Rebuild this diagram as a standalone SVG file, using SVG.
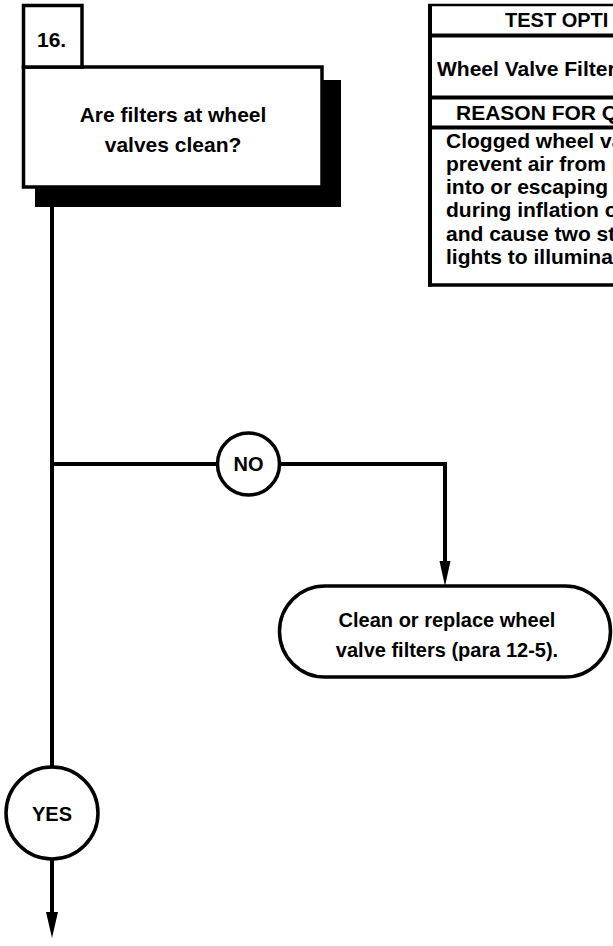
<svg xmlns="http://www.w3.org/2000/svg" width="613" height="946" viewBox="0 0 613 946">
<style>
text{font-family:"Liberation Sans",Arial,sans-serif;font-weight:bold;fill:#000}
.box{fill:#fff;stroke:#000;stroke-width:3.5}
.ln{fill:none;stroke:#000;stroke-width:4}
.c{text-anchor:middle}
</style>
<rect width="613" height="946" fill="#fff"/>
<g id="connectors">
<path class="ln" d="M52,207 V767"/>
<path class="ln" d="M52,464 H217"/>
<path class="ln" d="M280,464 H445 V562"/>
<path d="M439.5,561 L450.5,561 L445,586 Z" fill="#000"/>
<path class="ln" d="M52,860 V913"/>
<path d="M46,912 L58,912 L52,938 Z" fill="#000"/>
</g>
<g id="step16">
<rect x="35" y="80" width="306" height="127" fill="#000"/>
<rect class="box" x="23.5" y="67" width="298.5" height="120"/>
<rect class="box" x="23.5" y="5.5" width="58.5" height="61.5"/>
<text x="37" y="47" font-size="21">16.</text>
<text class="c" x="173" y="122" font-size="21">Are filters at wheel</text>
<text class="c" x="173" y="152" font-size="21">valves clean?</text>
</g>
<g id="no">
<circle class="box" cx="248.5" cy="464" r="31"/>
<text class="c" x="248.5" y="471" font-size="20">NO</text>
</g>
<g id="clean">
<rect class="box" x="279.5" y="586" width="331" height="91" rx="45.5"/>
<text class="c" x="447" y="627" font-size="20">Clean or replace wheel</text>
<text class="c" x="447" y="657" font-size="20">valve filters (para 12-5).</text>
</g>
<g id="yes">
<circle class="box" cx="52" cy="813" r="46"/>
<text class="c" x="52" y="821" font-size="20">YES</text>
</g>
<g id="testOptions">
<path d="M428,5 H613" stroke="#000" stroke-width="2.5"/>
<path d="M428,35.5 H613 M428,97.5 H613 M428,127.5 H613" stroke="#000" stroke-width="4"/>
<path d="M428,285 H613" stroke="#000" stroke-width="3.5"/>
<path d="M430,4 V286.5" stroke="#000" stroke-width="4"/>
<text x="505" y="27" font-size="20">TEST OPTI</text>
<text x="437" y="76" font-size="21">Wheel Valve Filter</text>
<text x="456" y="120" font-size="21">REASON FOR Q</text>
<text x="446" y="148" font-size="21">Clogged wheel va</text>
<text x="446" y="171" font-size="21">prevent air from p</text>
<text x="446" y="194" font-size="21">into or escaping t</text>
<text x="446" y="217" font-size="21">during inflation o</text>
<text x="446" y="241" font-size="21">and cause two st</text>
<text x="446" y="264" font-size="21">lights to illuminat</text>
</g>
</svg>
